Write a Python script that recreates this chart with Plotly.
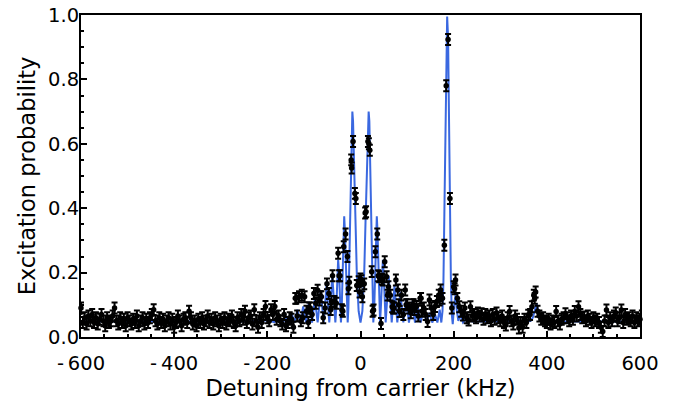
import plotly.graph_objects as go

# ---- measured data (scan grid, 4 kHz step) ----
detuning = list(range(-612, 613, 4))
prob = [
    0.035, 0.07, 0.055, 0.09, 0.045, 0.06, 0.04, 0.065, 0.05, 0.07,
    0.045, 0.06, 0.04, 0.055, 0.07, 0.05, 0.035, 0.06, 0.045, 0.05,
    0.065, 0.09, 0.05, 0.04, 0.06, 0.045, 0.055, 0.035, 0.06, 0.05,
    0.04, 0.055, 0.045, 0.065, 0.035, 0.05, 0.06, 0.04, 0.055, 0.045,
    0.06, 0.07, 0.085, 0.05, 0.04, 0.06, 0.045, 0.055, 0.035, 0.05,
    0.06, 0.04, 0.055, 0.03, 0.045, 0.065, 0.05, 0.035, 0.055, 0.06,
    0.045, 0.08, 0.06, 0.04, 0.05, 0.035, 0.055, 0.045, 0.06, 0.04,
    0.05, 0.065, 0.045, 0.055, 0.04, 0.06, 0.05, 0.035, 0.055, 0.045,
    0.06, 0.04, 0.055, 0.05, 0.065, 0.045, 0.035, 0.06, 0.05, 0.07,
    0.055, 0.08, 0.045, 0.06, 0.065, 0.04, 0.085, 0.05, 0.03, 0.06,
    0.045, 0.07, 0.095, 0.06, 0.05, 0.085, 0.07, 0.095, 0.055, 0.065,
    0.05, 0.04, 0.07, 0.035, 0.045, 0.06, 0.055, 0.03, 0.12, 0.065,
    0.125, 0.05, 0.06, 0.125, 0.08, 0.045, 0.09, 0.07, 0.135, 0.105,
    0.145, 0.115, 0.125, 0.06, 0.09, 0.165, 0.135, 0.085, 0.19, 0.11,
    0.105, 0.26, 0.19, 0.085, 0.28, 0.32, 0.25, 0.17, 0.55, 0.607,
    0.446, 0.16, 0.172, 0.18, 0.125, 0.165, 0.389, 0.607, 0.58, 0.203,
    0.084, 0.265, 0.32, 0.187, 0.042, 0.177, 0.234, 0.187, 0.156, 0.13,
    0.094, 0.09, 0.177, 0.146, 0.079, 0.13, 0.07, 0.146, 0.10, 0.09,
    0.075, 0.10, 0.085, 0.095, 0.065, 0.12, 0.08, 0.09, 0.07, 0.048,
    0.115, 0.09, 0.07, 0.095, 0.11, 0.13, 0.146, 0.12, 0.285, 0.78,
    0.924, 0.43, 0.09, 0.156, 0.177, 0.12, 0.094, 0.08, 0.068, 0.09,
    0.06, 0.053, 0.094, 0.065, 0.07, 0.06, 0.075, 0.065, 0.072, 0.055,
    0.07, 0.06, 0.065, 0.05, 0.07, 0.055, 0.075, 0.06, 0.05, 0.065,
    0.045, 0.037, 0.06, 0.079, 0.05, 0.04, 0.065, 0.055, 0.028, 0.045,
    0.03, 0.055, 0.045, 0.068, 0.07, 0.094, 0.13, 0.14, 0.08, 0.065,
    0.055, 0.06, 0.05, 0.045, 0.055, 0.04, 0.05, 0.045, 0.079, 0.05,
    0.04, 0.055, 0.06, 0.072, 0.06, 0.05, 0.065, 0.055, 0.079, 0.065,
    0.094, 0.07, 0.06, 0.062, 0.05, 0.065, 0.055, 0.045, 0.06, 0.05,
    0.055, 0.045, 0.03, 0.017, 0.05, 0.084, 0.045, 0.06, 0.05, 0.065,
    0.075, 0.05, 0.06, 0.084, 0.045, 0.07, 0.055, 0.06, 0.05, 0.065,
    0.045, 0.06, 0.05, 0.055, 0.065, 0.05, 0.05,
]

# second interleaved scan points near the centre
extra_detuning = [-138, -126, -110, -86, -62, -46, -38, -26, -19, -10, -2, 2, 10,
                  18, 26, 38, 46, 58, 70, 82, 98, 114, 130, 170, 202, 374]
extra_prob = [0.12, 0.13, 0.09, 0.125, 0.11, 0.19, 0.08, 0.15, 0.525, 0.43, 0.14, 0.175, 0.385,
              0.60, 0.08, 0.19, 0.18, 0.13, 0.09, 0.10, 0.10, 0.10, 0.12, 0.115, 0.15, 0.12]

err_value = 0.017

# ---- fitted curve ----
fit_x = [-612, -400, -250, -200, -185, -173, -166, -160.5, -154, -148, -142, -135.5,
         -129, -123, -117, -110.5, -104, -98, -92, -85.5, -79, -73, -67, -60.5, -54,
         -52, -50, -48, -46, -44, -42, -40.5, -38.5, -36.5, -35, -33.5, -31.5, -29.5,
         -27.5, -26, -24, -21.5, -19, -17.5, -16, -14, -11, -8, -4, 0,
         4, 8, 11, 14, 16, 17.5, 19, 21.5, 24, 26, 27.5, 29.5, 31.5, 33.5, 35, 36.5,
         38.5, 40.5, 42, 44, 46, 48, 50, 52, 54, 60.5, 67, 73, 79, 85.5, 92, 98, 104,
         110.5, 117, 123, 129, 135.5, 142, 148, 154, 160.5, 165, 170, 173.5, 176,
         178, 180, 182, 184, 186, 188, 190, 192, 194, 196, 198, 201, 204, 207, 210,
         214, 220, 226, 240, 300, 365, 370, 374, 378, 382, 386, 392, 500, 612]
fit_y = [0.048, 0.047, 0.048, 0.052, 0.046, 0.058, 0.045, 0.066, 0.045, 0.075, 0.045, 0.085,
         0.045, 0.095, 0.045, 0.11, 0.045, 0.12, 0.045, 0.14, 0.045, 0.16, 0.045, 0.19, 0.045,
         0.09, 0.19, 0.24, 0.20, 0.10, 0.045, 0.08, 0.20, 0.33, 0.375, 0.33, 0.22, 0.09,
         0.045, 0.09, 0.25, 0.50, 0.67, 0.70, 0.67, 0.57, 0.37, 0.20, 0.08, 0.045,
         0.08, 0.20, 0.37, 0.57, 0.67, 0.70, 0.67, 0.50, 0.25, 0.09, 0.045, 0.09, 0.22, 0.33, 0.375, 0.33,
         0.20, 0.08, 0.045, 0.10, 0.20, 0.24, 0.19, 0.09, 0.045, 0.19, 0.045, 0.16, 0.045, 0.14, 0.045, 0.12, 0.045,
         0.11, 0.045, 0.095, 0.045, 0.085, 0.045, 0.075, 0.045, 0.068, 0.045, 0.085, 0.045, 0.08,
         0.17, 0.38, 0.62, 0.86, 0.995, 0.93, 0.64, 0.38, 0.18, 0.07, 0.04, 0.10, 0.13, 0.08, 0.05,
         0.07, 0.045, 0.055, 0.048, 0.048, 0.05, 0.06, 0.08, 0.105, 0.07, 0.05, 0.048, 0.048, 0.048]

x_ticks = [-600, -400, -200, 0, 200, 400, 600]
x_tick_text = ["-\u2009600", "-\u2009400", "-\u2009200", "0", "200", "400", "600"]
y_ticks = [0.0, 0.2, 0.4, 0.6, 0.8, 1.0]

FONT = "DejaVu Sans"

fig = go.Figure()
fig.add_trace(go.Scatter(
    x=fit_x, y=fit_y, mode="lines",
    line=dict(color="#3a68e0", width=2),
    hoverinfo="skip", showlegend=False,
))
fig.add_trace(go.Scatter(
    x=detuning + extra_detuning, y=prob + extra_prob, mode="markers",
    marker=dict(color="black", size=5.5),
    error_y=dict(type="constant", value=err_value, color="black", thickness=2, width=3),
    cliponaxis=False, showlegend=False,
))

axis_common = dict(
    showline=True, linecolor="black", linewidth=2, mirror=True,
    ticks="inside", tickcolor="black", tickwidth=2, ticklen=6,
    showgrid=False, zeroline=False, automargin=False,
    tickfont=dict(family=FONT, size=19.5, color="black"),
)
fig.update_xaxes(
    range=[-600, 600], tickvals=x_ticks, ticktext=x_tick_text,
    ticklabelstandoff=8,
    minor=dict(dtick=50, ticks="inside", ticklen=3, tickwidth=1.5, tickcolor="black"),
    title=dict(text="Detuning from carrier (kHz)", font=dict(family=FONT, size=22.5, color="black"), standoff=0),
    **axis_common,
)
fig.update_yaxes(
    range=[0, 1], tickvals=y_ticks, tickformat=".1f",
    ticklabelstandoff=-4,
    minor=dict(dtick=0.05, ticks="inside", ticklen=3, tickwidth=1.5, tickcolor="black"),
    title=dict(text="Excitation probability", font=dict(family=FONT, size=22.5, color="black"), standoff=6),
    **axis_common,
)
fig.update_layout(
    width=679, height=403,
    margin=dict(l=81, r=39, t=15, b=66),
    paper_bgcolor="white", plot_bgcolor="white",
)
fig.write_html("out.html")
